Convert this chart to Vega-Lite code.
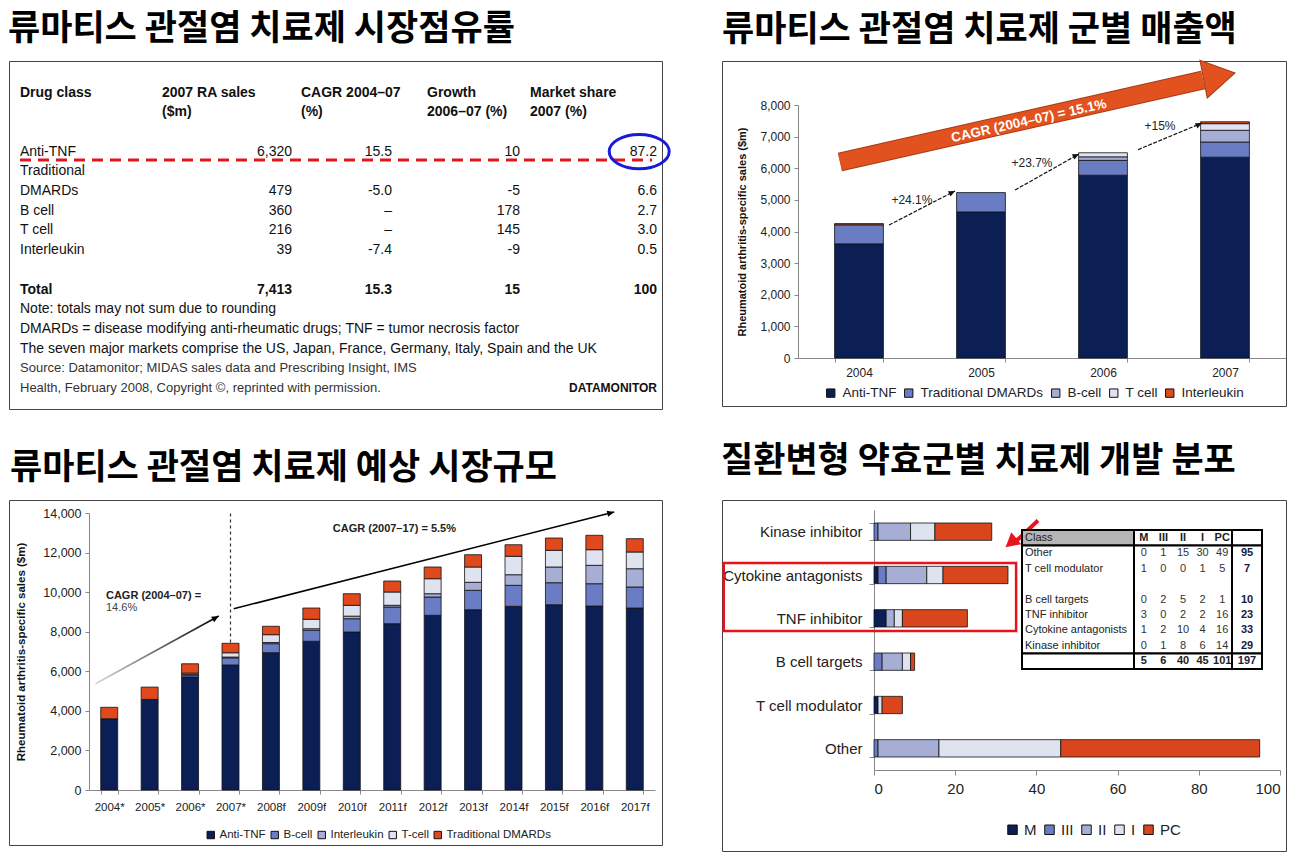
{
"$schema": "https://vega.github.io/schema/vega-lite/v6.json",
"background": "white",
"padding": {"left": 7, "top": 11, "right": 5, "bottom": 0},
"config": {
  "font": "Liberation Sans",
  "view": {"stroke": "#444", "strokeWidth": 1},
  "title": {"anchor": "start", "frame": "group", "font": "Noto Sans CJK KR", "fontSize": 35, "fontWeight": "bold", "color": "#000", "offset": 14},
  "axis": {"labelFont": "Liberation Sans", "titleFont": "Liberation Sans", "labelColor": "#222", "titleColor": "#111", "domainColor": "#888", "tickColor": "#888", "grid": false},
  "legend": {"labelFont": "Liberation Sans", "labelColor": "#222"},
  "text": {"font": "Liberation Sans"}
},
"datasets": {
  "dev": [
    {"cls": "Kinase inhibitor", "phase": "M", "n": 0}, {"cls": "Kinase inhibitor", "phase": "III", "n": 1}, {"cls": "Kinase inhibitor", "phase": "II", "n": 8}, {"cls": "Kinase inhibitor", "phase": "I", "n": 6}, {"cls": "Kinase inhibitor", "phase": "PC", "n": 14},
    {"cls": "Cytokine antagonists", "phase": "M", "n": 1}, {"cls": "Cytokine antagonists", "phase": "III", "n": 2}, {"cls": "Cytokine antagonists", "phase": "II", "n": 10}, {"cls": "Cytokine antagonists", "phase": "I", "n": 4}, {"cls": "Cytokine antagonists", "phase": "PC", "n": 16},
    {"cls": "TNF inhibitor", "phase": "M", "n": 3}, {"cls": "TNF inhibitor", "phase": "III", "n": 0}, {"cls": "TNF inhibitor", "phase": "II", "n": 2}, {"cls": "TNF inhibitor", "phase": "I", "n": 2}, {"cls": "TNF inhibitor", "phase": "PC", "n": 16},
    {"cls": "B cell targets", "phase": "M", "n": 0}, {"cls": "B cell targets", "phase": "III", "n": 2}, {"cls": "B cell targets", "phase": "II", "n": 5}, {"cls": "B cell targets", "phase": "I", "n": 2}, {"cls": "B cell targets", "phase": "PC", "n": 1},
    {"cls": "T cell modulator", "phase": "M", "n": 1}, {"cls": "T cell modulator", "phase": "III", "n": 0}, {"cls": "T cell modulator", "phase": "II", "n": 0}, {"cls": "T cell modulator", "phase": "I", "n": 1}, {"cls": "T cell modulator", "phase": "PC", "n": 5},
    {"cls": "Other", "phase": "M", "n": 0}, {"cls": "Other", "phase": "III", "n": 1}, {"cls": "Other", "phase": "II", "n": 15}, {"cls": "Other", "phase": "I", "n": 30}, {"cls": "Other", "phase": "PC", "n": 49}
  ],
  "phaseOrder": [{"phase": "M", "rank": 1}, {"phase": "III", "rank": 2}, {"phase": "II", "rank": 3}, {"phase": "I", "rank": 4}, {"phase": "PC", "rank": 5}],
  "trOrder": [{"cls": "Anti-TNF", "rank": 1}, {"cls": "Traditional DMARDs", "rank": 2}, {"cls": "B-cell", "rank": 3}, {"cls": "T cell", "rank": 4}, {"cls": "Interleukin", "rank": 5}]
},
"spacing": 33,
"resolve": {"scale": {"color": "independent"}, "legend": {"color": "independent"}},
"vconcat": [
 {"hconcat": [
  {
   "width": 653, "height": 348,
   "title": {"text": "류마티스 관절염 치료제 시장점유률", "dx": -1},
   "resolve": {"scale": {"x": "independent", "y": "independent"}},
   "layer": [
    {"data": {"values": [
      {"line": 0, "col": 0, "text": "Drug class"}, {"line": 0, "col": 1, "text": "2007 RA sales"}, {"line": 0, "col": 2, "text": "CAGR 2004–07"}, {"line": 0, "col": 3, "text": "Growth"}, {"line": 0, "col": 4, "text": "Market share"},
      {"line": 1, "col": 1, "text": "($m)"}, {"line": 1, "col": 2, "text": "(%)"}, {"line": 1, "col": 3, "text": "2006–07 (%)"}, {"line": 1, "col": 4, "text": "2007 (%)"},
      {"line": 10, "col": 0, "text": "Total"}]},
     "mark": {"type": "text", "align": "left", "baseline": "middle", "fontSize": 14, "fontWeight": "bold", "color": "#111"},
     "encoding": {
      "x": {"field": "col", "type": "quantitative", "scale": {"domain": [0, 1, 2, 3, 4, 5], "range": [11, 153, 292, 418, 521, 643], "zero": false, "nice": false}, "axis": null},
      "y": {"field": "line", "type": "quantitative", "scale": {"domain": [0, 15], "range": [31.5, 327], "zero": false, "nice": false}, "axis": null},
      "text": {"field": "text"}}},
    {"data": {"values": [
      {"line": 3, "col": 0, "text": "Anti-TNF"}, {"line": 4, "col": 0, "text": "Traditional"}, {"line": 5, "col": 0, "text": "DMARDs"}, {"line": 6, "col": 0, "text": "B cell"}, {"line": 7, "col": 0, "text": "T cell"}, {"line": 8, "col": 0, "text": "Interleukin"},
      {"line": 11, "col": 0, "text": "Note: totals may not sum due to rounding"},
      {"line": 12, "col": 0, "text": "DMARDs = disease modifying anti-rheumatic drugs; TNF = tumor necrosis factor"},
      {"line": 13, "col": 0, "text": "The seven major markets comprise the US, Japan, France, Germany, Italy, Spain and the UK"}]},
     "mark": {"type": "text", "align": "left", "baseline": "middle", "fontSize": 14, "color": "#111"},
     "encoding": {
      "x": {"field": "col", "type": "quantitative", "scale": {"domain": [0, 1, 2, 3, 4, 5], "range": [11, 153, 292, 418, 521, 643], "zero": false, "nice": false}, "axis": null},
      "y": {"field": "line", "type": "quantitative", "scale": {"domain": [0, 15], "range": [31.5, 327], "zero": false, "nice": false}, "axis": null},
      "text": {"field": "text"}}},
    {"data": {"values": [
      {"line": 14, "col": 0, "text": "Source: Datamonitor; MIDAS sales data and Prescribing Insight, IMS"},
      {"line": 15, "col": 0, "text": "Health, February 2008, Copyright ©, reprinted with permission."}]},
     "mark": {"type": "text", "align": "left", "baseline": "middle", "fontSize": 13, "color": "#333"},
     "encoding": {
      "x": {"field": "col", "type": "quantitative", "scale": {"domain": [0, 1, 2, 3, 4, 5], "range": [11, 153, 292, 418, 521, 643], "zero": false, "nice": false}, "axis": null},
      "y": {"field": "line", "type": "quantitative", "scale": {"domain": [0, 15], "range": [31.5, 327], "zero": false, "nice": false}, "axis": null},
      "text": {"field": "text"}}},
    {"data": {"values": [
      {"line": 3, "col": 1, "text": "6,320"}, {"line": 3, "col": 2, "text": "15.5"}, {"line": 3, "col": 3, "text": "10"}, {"line": 3, "col": 4, "text": "87.2"},
      {"line": 5, "col": 1, "text": "479"}, {"line": 5, "col": 2, "text": "-5.0"}, {"line": 5, "col": 3, "text": "-5"}, {"line": 5, "col": 4, "text": "6.6"},
      {"line": 6, "col": 1, "text": "360"}, {"line": 6, "col": 2, "text": "–"}, {"line": 6, "col": 3, "text": "178"}, {"line": 6, "col": 4, "text": "2.7"},
      {"line": 7, "col": 1, "text": "216"}, {"line": 7, "col": 2, "text": "–"}, {"line": 7, "col": 3, "text": "145"}, {"line": 7, "col": 4, "text": "3.0"},
      {"line": 8, "col": 1, "text": "39"}, {"line": 8, "col": 2, "text": "-7.4"}, {"line": 8, "col": 3, "text": "-9"}, {"line": 8, "col": 4, "text": "0.5"}]},
     "mark": {"type": "text", "align": "right", "baseline": "middle", "fontSize": 14, "color": "#111"},
     "encoding": {
      "x": {"field": "col", "type": "quantitative", "scale": {"domain": [1, 2, 3, 4], "range": [283, 383, 511, 648], "zero": false, "nice": false}, "axis": null},
      "y": {"field": "line", "type": "quantitative", "scale": {"domain": [0, 15], "range": [31.5, 327], "zero": false, "nice": false}, "axis": null},
      "text": {"field": "text"}}},
    {"data": {"values": [
      {"line": 10, "col": 1, "text": "7,413"}, {"line": 10, "col": 2, "text": "15.3"}, {"line": 10, "col": 3, "text": "15"}, {"line": 10, "col": 4, "text": "100"}]},
     "mark": {"type": "text", "align": "right", "baseline": "middle", "fontSize": 14, "fontWeight": "bold", "color": "#111"},
     "encoding": {
      "x": {"field": "col", "type": "quantitative", "scale": {"domain": [1, 2, 3, 4], "range": [283, 383, 511, 648], "zero": false, "nice": false}, "axis": null},
      "y": {"field": "line", "type": "quantitative", "scale": {"domain": [0, 15], "range": [31.5, 327], "zero": false, "nice": false}, "axis": null},
      "text": {"field": "text"}}},
    {"data": {"values": [{"line": 15, "col": 4, "text": "DATAMONITOR"}]},
     "mark": {"type": "text", "align": "right", "baseline": "middle", "fontSize": 12, "fontWeight": "bold", "color": "#111"},
     "encoding": {
      "x": {"field": "col", "type": "quantitative", "scale": {"domain": [1, 2, 3, 4], "range": [283, 383, 511, 648], "zero": false, "nice": false}, "axis": null},
      "y": {"field": "line", "type": "quantitative", "scale": {"domain": [0, 15], "range": [31.5, 327], "zero": false, "nice": false}, "axis": null},
      "text": {"field": "text"}}},
    {"data": {"values": [{"x0": 0, "x1": 5, "line": 3.43}]},
     "mark": {"type": "rule", "color": "#e8141c", "strokeWidth": 3, "strokeDash": [11, 7]},
     "encoding": {
      "x": {"field": "x0", "type": "quantitative", "scale": {"domain": [0, 1, 2, 3, 4, 5], "range": [11, 153, 292, 418, 521, 643], "zero": false, "nice": false}, "axis": null},
      "x2": {"field": "x1"},
      "y": {"field": "line", "type": "quantitative", "scale": {"domain": [0, 15], "range": [31.5, 327], "zero": false, "nice": false}, "axis": null}}},
    {"data": {"values": [{"col": 3.87, "line": 3}]},
     "mark": {"type": "point", "shape": "M -1 0 A 1 0.57 0 1 1 1 0 A 1 0.57 0 1 1 -1 0 Z", "size": 3600, "filled": false, "stroke": "#1a1adc", "strokeWidth": 3, "opacity": 1},
     "encoding": {
      "x": {"field": "col", "type": "quantitative", "scale": {"domain": [1, 2, 3, 4], "range": [283, 383, 511, 648], "zero": false, "nice": false}, "axis": null},
      "y": {"field": "line", "type": "quantitative", "scale": {"domain": [0, 15], "range": [31.5, 327], "zero": false, "nice": false}, "axis": null}}}
   ]
  },
  {
   "width": 564, "height": 345,
   "title": {"text": "류마티스 관절염 치료제 군별 매출액", "dx": 0, "dy": 20},
   "resolve": {"scale": {"x": "independent", "y": "independent"}},
   "layer": [
    {"data": {"values": [
      {"year": "2004", "cls": "Anti-TNF", "v": 3610}, {"year": "2004", "cls": "Traditional DMARDs", "v": 600}, {"year": "2004", "cls": "Interleukin", "v": 40},
      {"year": "2005", "cls": "Anti-TNF", "v": 4620}, {"year": "2005", "cls": "Traditional DMARDs", "v": 610},
      {"year": "2006", "cls": "Anti-TNF", "v": 5780}, {"year": "2006", "cls": "Traditional DMARDs", "v": 470}, {"year": "2006", "cls": "B-cell", "v": 110}, {"year": "2006", "cls": "T cell", "v": 130},
      {"year": "2007", "cls": "Anti-TNF", "v": 6350}, {"year": "2007", "cls": "Traditional DMARDs", "v": 480}, {"year": "2007", "cls": "B-cell", "v": 370}, {"year": "2007", "cls": "T cell", "v": 210}, {"year": "2007", "cls": "Interleukin", "v": 60}]},
     "transform": [{"lookup": "cls", "from": {"data": {"name": "trOrder"}, "key": "cls", "fields": ["rank"]}}],
     "mark": {"type": "bar", "stroke": "#111", "strokeWidth": 0.8},
     "encoding": {
      "x": {"field": "year", "type": "nominal", "scale": {"range": [76, 564], "paddingInner": 0.6, "paddingOuter": 0.3},
            "axis": {"offset": -48, "title": null, "labelAngle": 0, "labelFontSize": 12, "tickBand": "extent", "tickSize": 4, "labelPadding": 5}},
      "y": {"field": "v", "type": "quantitative", "stack": "zero", "scale": {"domain": [0, 8000], "range": [297, 44], "nice": false, "zero": false},
            "axis": {"offset": -76, "values": [0, 1000, 2000, 3000, 4000, 5000, 6000, 7000, 8000], "format": ",.0f", "title": "Rheumatoid arthritis-specific sales ($m)", "titleFontSize": 11, "titleFontWeight": "bold", "titlePadding": 12, "labelFontSize": 12, "tickSize": 4, "labelPadding": 4}},
      "order": {"field": "rank", "type": "quantitative", "sort": "ascending"},
      "color": {"field": "cls", "type": "nominal",
                "scale": {"domain": ["Anti-TNF", "Traditional DMARDs", "B-cell", "T cell", "Interleukin"], "range": ["#0c1f55", "#6a7cc4", "#a6aed6", "#dfe2ef", "#e0481d"]},
                "legend": {"orient": "none", "legendX": 102, "legendY": 325, "direction": "horizontal", "title": null, "labelFontSize": 13.5, "symbolType": "square", "symbolSize": 70, "symbolStrokeColor": "#111", "symbolStrokeWidth": 1, "columnPadding": 5, "labelOffset": 5}}}},
    {"layer": [
      {"data": {"values": [{"yr": 2003.844, "v": 6199}, {"yr": 2006.82, "v": 8790}]},
       "mark": {"type": "line", "color": "#a83a17", "strokeWidth": 19, "strokeCap": "butt"},
       "encoding": {
        "x": {"field": "yr", "type": "quantitative", "scale": {"domain": [2003.5, 2007.5], "range": [76, 564], "nice": false, "zero": false}, "axis": null},
        "y": {"field": "v", "type": "quantitative", "scale": {"domain": [0, 8000], "range": [297, 44], "nice": false, "zero": false}, "axis": null}}},
      {"data": {"values": [{"yr": 2003.844, "v": 6199}, {"yr": 2006.82, "v": 8790}]},
       "mark": {"type": "line", "color": "#e2521f", "strokeWidth": 17, "strokeCap": "butt"},
       "encoding": {
        "x": {"field": "yr", "type": "quantitative", "scale": {"domain": [2003.5, 2007.5], "range": [76, 564], "nice": false, "zero": false}, "axis": null},
        "y": {"field": "v", "type": "quantitative", "scale": {"domain": [0, 8000], "range": [297, 44], "nice": false, "zero": false}, "axis": null}}},
      {"data": {"values": [{"yr": 2007.082, "v": 9012}]},
       "mark": {"type": "point", "shape": "M 0 0 L -2 -1.2 L -2 1.2 Z", "size": 1024, "angle": -11, "filled": true, "fill": "#e2521f", "stroke": "#a83a17", "strokeWidth": 1, "opacity": 1},
       "encoding": {
        "x": {"field": "yr", "type": "quantitative", "scale": {"domain": [2003.5, 2007.5], "range": [76, 564], "nice": false, "zero": false}, "axis": null},
        "y": {"field": "v", "type": "quantitative", "scale": {"domain": [0, 8000], "range": [297, 44], "nice": false, "zero": false}, "axis": null}}},
      {"data": {"values": [{"yr": 2005.393, "v": 7494, "t": "CAGR (2004–07) = 15.1%"}]},
       "mark": {"type": "text", "angle": -12.6, "fontSize": 13.5, "fontWeight": "bold", "color": "white", "align": "center", "baseline": "middle"},
       "encoding": {
        "x": {"field": "yr", "type": "quantitative", "scale": {"domain": [2003.5, 2007.5], "range": [76, 564], "nice": false, "zero": false}, "axis": null},
        "y": {"field": "v", "type": "quantitative", "scale": {"domain": [0, 8000], "range": [297, 44], "nice": false, "zero": false}, "axis": null},
        "text": {"field": "t"}}},
      {"data": {"values": [
        {"id": 1, "yr": 2004.246, "v": 4205}, {"id": 1, "yr": 2004.787, "v": 5281},
        {"id": 2, "yr": 2005.279, "v": 5312}, {"id": 2, "yr": 2005.803, "v": 6450},
        {"id": 3, "yr": 2006.287, "v": 6587}, {"id": 3, "yr": 2006.811, "v": 7431}]},
       "mark": {"type": "line", "color": "#111", "strokeWidth": 1.2, "strokeDash": [4, 1.5]},
       "encoding": {
        "x": {"field": "yr", "type": "quantitative", "scale": {"domain": [2003.5, 2007.5], "range": [76, 564], "nice": false, "zero": false}, "axis": null},
        "y": {"field": "v", "type": "quantitative", "scale": {"domain": [0, 8000], "range": [297, 44], "nice": false, "zero": false}, "axis": null},
        "detail": {"field": "id"}}},
      {"data": {"values": [{"yr": 2004.787, "v": 5281}, {"yr": 2005.803, "v": 6450}, {"yr": 2006.811, "v": 7431}]},
       "mark": {"type": "point", "shape": "M 0 0 L -2 -0.9 L -2 0.9 Z", "size": 42, "angle": -27, "filled": true, "color": "#111", "opacity": 1},
       "encoding": {
        "x": {"field": "yr", "type": "quantitative", "scale": {"domain": [2003.5, 2007.5], "range": [76, 564], "nice": false, "zero": false}, "axis": null},
        "y": {"field": "v", "type": "quantitative", "scale": {"domain": [0, 8000], "range": [297, 44], "nice": false, "zero": false}, "axis": null}}},
      {"data": {"values": [{"yr": 2004.434, "v": 5005, "t": "+24.1%"}, {"yr": 2005.418, "v": 6166, "t": "+23.7%"}, {"yr": 2006.467, "v": 7336, "t": "+15%"}]},
       "mark": {"type": "text", "fontSize": 12, "color": "#222", "align": "center", "baseline": "middle"},
       "encoding": {
        "x": {"field": "yr", "type": "quantitative", "scale": {"domain": [2003.5, 2007.5], "range": [76, 564], "nice": false, "zero": false}, "axis": null},
        "y": {"field": "v", "type": "quantitative", "scale": {"domain": [0, 8000], "range": [297, 44], "nice": false, "zero": false}, "axis": null},
        "text": {"field": "t"}}}
    ]}
   ]
  }
 ], "spacing": 60, "bounds": "flush", "resolve": {"scale": {"color": "independent"}, "legend": {"color": "independent"}}},
 {"hconcat": [
  {
   "width": 653, "height": 345,
   "title": {"text": "류마티스 관절염 치료제 예상 시장규모", "dx": 1},
   "resolve": {"scale": {"x": "independent", "y": "independent"}},
   "layer": [
    {"data": {"values": [
      {"yl": "2004*", "cls": "Anti-TNF", "v": 3600}, {"yl": "2004*", "cls": "Traditional DMARDs", "v": 580},
      {"yl": "2005*", "cls": "Anti-TNF", "v": 4580}, {"yl": "2005*", "cls": "Traditional DMARDs", "v": 620},
      {"yl": "2006*", "cls": "Anti-TNF", "v": 5710}, {"yl": "2006*", "cls": "B-cell", "v": 100}, {"yl": "2006*", "cls": "Interleukin", "v": 40}, {"yl": "2006*", "cls": "T-cell", "v": 60}, {"yl": "2006*", "cls": "Traditional DMARDs", "v": 470},
      {"yl": "2007*", "cls": "Anti-TNF", "v": 6320}, {"yl": "2007*", "cls": "B-cell", "v": 360}, {"yl": "2007*", "cls": "Interleukin", "v": 40}, {"yl": "2007*", "cls": "T-cell", "v": 216}, {"yl": "2007*", "cls": "Traditional DMARDs", "v": 479},
      {"yl": "2008f", "cls": "Anti-TNF", "v": 6940}, {"yl": "2008f", "cls": "B-cell", "v": 455}, {"yl": "2008f", "cls": "Interleukin", "v": 60}, {"yl": "2008f", "cls": "T-cell", "v": 395}, {"yl": "2008f", "cls": "Traditional DMARDs", "v": 425},
      {"yl": "2009f", "cls": "Anti-TNF", "v": 7515}, {"yl": "2009f", "cls": "B-cell", "v": 556}, {"yl": "2009f", "cls": "Interleukin", "v": 80}, {"yl": "2009f", "cls": "T-cell", "v": 476}, {"yl": "2009f", "cls": "Traditional DMARDs", "v": 571},
      {"yl": "2010f", "cls": "Anti-TNF", "v": 7985}, {"yl": "2010f", "cls": "B-cell", "v": 672}, {"yl": "2010f", "cls": "Interleukin", "v": 130}, {"yl": "2010f", "cls": "T-cell", "v": 548}, {"yl": "2010f", "cls": "Traditional DMARDs", "v": 586},
      {"yl": "2011f", "cls": "Anti-TNF", "v": 8405}, {"yl": "2011f", "cls": "B-cell", "v": 844}, {"yl": "2011f", "cls": "Interleukin", "v": 86}, {"yl": "2011f", "cls": "T-cell", "v": 672}, {"yl": "2011f", "cls": "Traditional DMARDs", "v": 556},
      {"yl": "2012f", "cls": "Anti-TNF", "v": 8829}, {"yl": "2012f", "cls": "B-cell", "v": 925}, {"yl": "2012f", "cls": "Interleukin", "v": 167}, {"yl": "2012f", "cls": "T-cell", "v": 758}, {"yl": "2012f", "cls": "Traditional DMARDs", "v": 591},
      {"yl": "2013f", "cls": "Anti-TNF", "v": 9112}, {"yl": "2013f", "cls": "B-cell", "v": 981}, {"yl": "2013f", "cls": "Interleukin", "v": 404}, {"yl": "2013f", "cls": "T-cell", "v": 773}, {"yl": "2013f", "cls": "Traditional DMARDs", "v": 622},
      {"yl": "2014f", "cls": "Anti-TNF", "v": 9284}, {"yl": "2014f", "cls": "B-cell", "v": 1061}, {"yl": "2014f", "cls": "Interleukin", "v": 536}, {"yl": "2014f", "cls": "T-cell", "v": 930}, {"yl": "2014f", "cls": "Traditional DMARDs", "v": 586},
      {"yl": "2015f", "cls": "Anti-TNF", "v": 9365}, {"yl": "2015f", "cls": "B-cell", "v": 1112}, {"yl": "2015f", "cls": "Interleukin", "v": 793}, {"yl": "2015f", "cls": "T-cell", "v": 844}, {"yl": "2015f", "cls": "Traditional DMARDs", "v": 622},
      {"yl": "2016f", "cls": "Anti-TNF", "v": 9299}, {"yl": "2016f", "cls": "B-cell", "v": 1127}, {"yl": "2016f", "cls": "Interleukin", "v": 930}, {"yl": "2016f", "cls": "T-cell", "v": 789}, {"yl": "2016f", "cls": "Traditional DMARDs", "v": 728},
      {"yl": "2017f", "cls": "Anti-TNF", "v": 9198}, {"yl": "2017f", "cls": "B-cell", "v": 1062}, {"yl": "2017f", "cls": "Interleukin", "v": 924}, {"yl": "2017f", "cls": "T-cell", "v": 845}, {"yl": "2017f", "cls": "Traditional DMARDs", "v": 672}]},
     "mark": {"type": "bar", "stroke": "#111", "strokeWidth": 0.8},
     "encoding": {
      "x": {"field": "yl", "type": "nominal", "scale": {"domain": ["2004*", "2005*", "2006*", "2007*", "2008f", "2009f", "2010f", "2011f", "2012f", "2013f", "2014f", "2015f", "2016f", "2017f"], "range": [80, 646], "paddingInner": 0.58, "paddingOuter": 0.29},
            "axis": {"offset": -55, "title": null, "labelAngle": 0, "labelFontSize": 11.5, "tickBand": "extent", "tickSize": 4, "labelPadding": 7}},
      "y": {"field": "v", "type": "quantitative", "stack": "zero", "scale": {"domain": [0, 14000], "range": [290, 13], "nice": false, "zero": false},
            "axis": {"offset": -80, "values": [0, 2000, 4000, 6000, 8000, 10000, 12000, 14000], "format": ",.0f", "title": "Rheumatoid arthritis-specific sales ($m)", "titleFontSize": 11.5, "titleFontWeight": "bold", "titlePadding": 16, "labelFontSize": 12.5, "tickSize": 4, "labelPadding": 4}},
      "order": {"field": "cls", "type": "nominal", "sort": "ascending"},
      "color": {"field": "cls", "type": "nominal",
                "scale": {"domain": ["Anti-TNF", "B-cell", "Interleukin", "T-cell", "Traditional DMARDs"], "range": ["#0c1f55", "#6a7cc4", "#a6aed6", "#dfe2ef", "#e0481d"]},
                "legend": {"orient": "none", "legendX": 196, "legendY": 329, "direction": "horizontal", "title": null, "labelFontSize": 11.5, "symbolType": "square", "symbolSize": 55, "symbolStrokeColor": "#111", "symbolStrokeWidth": 1, "columnPadding": 3, "labelOffset": 3}}}},
    {"layer": [
      {"data": {"values": [{"yr": 2007, "v": 7450, "v2": 14050}]},
       "mark": {"type": "rule", "color": "#333", "strokeWidth": 1.2, "strokeDash": [3, 3]},
       "encoding": {
        "x": {"field": "yr", "type": "quantitative", "scale": {"domain": [2003.5, 2017.5], "range": [80, 646], "nice": false, "zero": false}, "axis": null},
        "y": {"field": "v", "type": "quantitative", "scale": {"domain": [0, 14000], "range": [290, 13], "nice": false, "zero": false}, "axis": null},
        "y2": {"field": "v2"}}},
      {"data": {"values": [{"yr": 2003.66, "v": 5372}, {"yr": 2006.71, "v": 8794}]},
       "mark": {"type": "line", "strokeWidth": 1.6, "stroke": {"gradient": "linear", "x1": 0, "y1": 0, "x2": 1, "y2": 0, "stops": [{"offset": 0, "color": "#d8d8d8"}, {"offset": 1, "color": "#000000"}]}},
       "encoding": {
        "x": {"field": "yr", "type": "quantitative", "scale": {"domain": [2003.5, 2017.5], "range": [80, 646], "nice": false, "zero": false}, "axis": null},
        "y": {"field": "v", "type": "quantitative", "scale": {"domain": [0, 14000], "range": [290, 13], "nice": false, "zero": false}, "axis": null}}},
      {"data": {"values": [{"yr": 2007.08, "v": 9163}, {"yr": 2016.49, "v": 14050}]},
       "mark": {"type": "line", "strokeWidth": 1.6, "color": "#000"},
       "encoding": {
        "x": {"field": "yr", "type": "quantitative", "scale": {"domain": [2003.5, 2017.5], "range": [80, 646], "nice": false, "zero": false}, "axis": null},
        "y": {"field": "v", "type": "quantitative", "scale": {"domain": [0, 14000], "range": [290, 13], "nice": false, "zero": false}, "axis": null}}},
      {"data": {"values": [{"yr": 2006.71, "v": 8794}]},
       "mark": {"type": "point", "shape": "M 0 0 L -2 -0.9 L -2 0.9 Z", "size": 49, "angle": -29, "filled": true, "color": "#000", "opacity": 1},
       "encoding": {
        "x": {"field": "yr", "type": "quantitative", "scale": {"domain": [2003.5, 2017.5], "range": [80, 646], "nice": false, "zero": false}, "axis": null},
        "y": {"field": "v", "type": "quantitative", "scale": {"domain": [0, 14000], "range": [290, 13], "nice": false, "zero": false}, "axis": null}}},
      {"data": {"values": [{"yr": 2016.49, "v": 14050}]},
       "mark": {"type": "point", "shape": "M 0 0 L -2 -0.9 L -2 0.9 Z", "size": 49, "angle": -14, "filled": true, "color": "#000", "opacity": 1},
       "encoding": {
        "x": {"field": "yr", "type": "quantitative", "scale": {"domain": [2003.5, 2017.5], "range": [80, 646], "nice": false, "zero": false}, "axis": null},
        "y": {"field": "v", "type": "quantitative", "scale": {"domain": [0, 14000], "range": [290, 13], "nice": false, "zero": false}, "axis": null}}},
      {"data": {"values": [{"yr": 2003.92, "v": 9805, "t": "CAGR (2004–07) ="}, {"yr": 2009.53, "v": 13206, "t": "CAGR (2007–17) = 5.5%"}]},
       "mark": {"type": "text", "align": "left", "baseline": "middle", "fontSize": 11, "fontWeight": "bold", "color": "#222"},
       "encoding": {
        "x": {"field": "yr", "type": "quantitative", "scale": {"domain": [2003.5, 2017.5], "range": [80, 646], "nice": false, "zero": false}, "axis": null},
        "y": {"field": "v", "type": "quantitative", "scale": {"domain": [0, 14000], "range": [290, 13], "nice": false, "zero": false}, "axis": null},
        "text": {"field": "t"}}},
      {"data": {"values": [{"yr": 2003.92, "v": 9213, "t": "14.6%"}]},
       "mark": {"type": "text", "align": "left", "baseline": "middle", "fontSize": 11, "color": "#444"},
       "encoding": {
        "x": {"field": "yr", "type": "quantitative", "scale": {"domain": [2003.5, 2017.5], "range": [80, 646], "nice": false, "zero": false}, "axis": null},
        "y": {"field": "v", "type": "quantitative", "scale": {"domain": [0, 14000], "range": [290, 13], "nice": false, "zero": false}, "axis": null},
        "text": {"field": "t"}}}
    ]}
   ]
  },
  {
   "width": 564, "height": 351,
   "title": {"text": "질환변형 약효군별 치료제 개발 분포", "dx": -1},
   "resolve": {"scale": {"x": "independent", "y": "independent"}},
   "layer": [
    {"data": {"name": "dev"},
     "transform": [{"filter": "datum.n > 0"}, {"lookup": "phase", "from": {"data": {"name": "phaseOrder"}, "key": "phase", "fields": ["rank"]}}],
     "mark": {"type": "bar", "stroke": "#111", "strokeWidth": 0.8},
     "encoding": {
      "x": {"field": "n", "type": "quantitative", "stack": "zero", "scale": {"domain": [0, 100], "range": [152, 558], "nice": false, "zero": false},
            "axis": {"offset": -81, "values": [0, 20, 40, 60, 80, 100], "title": null, "labelFontSize": 15, "tickSize": 5, "labelPadding": 6}},
      "y": {"field": "cls", "type": "nominal", "scale": {"domain": ["Kinase inhibitor", "Cytokine antagonists", "TNF inhibitor", "B cell targets", "T cell modulator", "Other"], "range": [10, 270], "paddingInner": 0.6, "paddingOuter": 0.3},
            "axis": {"offset": -152, "title": null, "labelFontSize": 15, "tickBand": "extent", "tickSize": 5, "labelPadding": 7}},
      "order": {"field": "rank", "type": "quantitative", "sort": "ascending"},
      "color": {"field": "phase", "type": "nominal",
                "scale": {"domain": ["M", "III", "II", "I", "PC"], "range": ["#0c1f55", "#6a7cc4", "#a6aed6", "#dfe2ef", "#d9461e"]},
                "legend": {"orient": "none", "legendX": 283, "legendY": 322, "direction": "horizontal", "title": null, "labelFontSize": 15, "symbolType": "square", "symbolSize": 90, "symbolStrokeColor": "#111", "symbolStrokeWidth": 1, "columnPadding": 5, "labelOffset": 4}}}},
    {"layer": [
      {"data": {"values": [{"x0": -37, "x1": 35, "c0": "Cytokine antagonists", "c1": "TNF inhibitor"}]},
       "mark": {"type": "rect", "filled": false, "stroke": "#e8141c", "strokeWidth": 2.5},
       "encoding": {
        "x": {"field": "x0", "type": "quantitative", "scale": {"domain": [0, 100], "range": [152, 558], "nice": false, "zero": false}, "axis": null},
        "x2": {"field": "x1"},
        "y": {"field": "c0", "type": "nominal", "bandPosition": -0.19, "scale": {"domain": ["Kinase inhibitor", "Cytokine antagonists", "TNF inhibitor", "B cell targets", "T cell modulator", "Other"], "range": [10, 270], "paddingInner": 0.6, "paddingOuter": 0.3}, "axis": null},
        "y2": {"field": "c1", "bandPosition": 1.23}}},
      {"data": {"values": [{"x0": 40.4, "x1": 34.3, "c": "Kinase inhibitor"}]},
       "mark": {"type": "rule", "color": "#e8141c", "strokeWidth": 4},
       "encoding": {
        "x": {"field": "x0", "type": "quantitative", "scale": {"domain": [0, 100], "range": [152, 558], "nice": false, "zero": false}, "axis": null},
        "x2": {"field": "x1"},
        "y": {"field": "c", "type": "nominal", "bandPosition": -0.14, "scale": {"domain": ["Kinase inhibitor", "Cytokine antagonists", "TNF inhibitor", "B cell targets", "T cell modulator", "Other"], "range": [10, 270], "paddingInner": 0.6, "paddingOuter": 0.3}, "axis": null},
        "y2": {"field": "c", "bandPosition": 1.2}}},
      {"data": {"values": [{"x": 32.4, "c": "Kinase inhibitor"}]},
       "mark": {"type": "point", "shape": "M 0 0 L -2 -1.1 L -2 1.1 Z", "size": 196, "angle": 140, "filled": true, "color": "#e8141c", "opacity": 1},
       "encoding": {
        "x": {"field": "x", "type": "quantitative", "scale": {"domain": [0, 100], "range": [152, 558], "nice": false, "zero": false}, "axis": null},
        "y": {"field": "c", "type": "nominal", "bandPosition": 1.4, "scale": {"domain": ["Kinase inhibitor", "Cytokine antagonists", "TNF inhibitor", "B cell targets", "T cell modulator", "Other"], "range": [10, 270], "paddingInner": 0.6, "paddingOuter": 0.3}, "axis": null}}}
    ]},
    {"resolve": {"scale": {"x": "independent"}},
     "layer": [
      {"layer": [
        {"data": {"values": [{"c": "Class", "r0": "hdr", "r1": "hdr"}]},
         "mark": {"type": "rect", "fill": "#b5b5b5", "stroke": "#000", "strokeWidth": 2},
         "encoding": {
          "x": {"field": "c", "type": "nominal", "scale": {"domain": ["Class"], "range": [300, 412], "paddingInner": 0, "paddingOuter": 0}, "axis": null},
          "y": {"field": "r0", "type": "nominal", "bandPosition": 0, "scale": {"domain": ["hdr", "Other", "T cell modulator", "gap", "B cell targets", "TNF inhibitor", "Cytokine antagonists", "Kinase inhibitor", "tot"], "range": [30, 169], "paddingInner": 0, "paddingOuter": 0}, "axis": null},
          "y2": {"field": "r1", "bandPosition": 1}}},
        {"data": {"values": [{"c": "Class", "r0": "Other", "r1": "Kinase inhibitor"}, {"c": "Class", "r0": "tot", "r1": "tot"}]},
         "mark": {"type": "rect", "fill": "#fff", "stroke": "#000", "strokeWidth": 2},
         "encoding": {
          "x": {"field": "c", "type": "nominal", "scale": {"domain": ["Class"], "range": [300, 412], "paddingInner": 0, "paddingOuter": 0}, "axis": null},
          "y": {"field": "r0", "type": "nominal", "bandPosition": 0, "scale": {"domain": ["hdr", "Other", "T cell modulator", "gap", "B cell targets", "TNF inhibitor", "Cytokine antagonists", "Kinase inhibitor", "tot"], "range": [30, 169], "paddingInner": 0, "paddingOuter": 0}, "axis": null},
          "y2": {"field": "r1", "bandPosition": 1}}},
        {"data": {"values": [{"c": "Class", "r": "hdr", "t": "Class"}, {"c": "Class", "r": "Other", "t": "Other"}, {"c": "Class", "r": "T cell modulator", "t": "T cell modulator"}, {"c": "Class", "r": "B cell targets", "t": "B cell targets"}, {"c": "Class", "r": "TNF inhibitor", "t": "TNF inhibitor"}, {"c": "Class", "r": "Cytokine antagonists", "t": "Cytokine antagonists"}, {"c": "Class", "r": "Kinase inhibitor", "t": "Kinase inhibitor"}]},
         "mark": {"type": "text", "align": "left", "baseline": "middle", "dx": 3, "fontSize": 11, "color": "#222"},
         "encoding": {
          "x": {"field": "c", "type": "nominal", "bandPosition": 0, "scale": {"domain": ["Class"], "range": [300, 412], "paddingInner": 0, "paddingOuter": 0}, "axis": null},
          "y": {"field": "r", "type": "nominal", "bandPosition": 0.5, "scale": {"domain": ["hdr", "Other", "T cell modulator", "gap", "B cell targets", "TNF inhibitor", "Cytokine antagonists", "Kinase inhibitor", "tot"], "range": [30, 169], "paddingInner": 0, "paddingOuter": 0}, "axis": null},
          "text": {"field": "t"}}}
      ]},
      {"layer": [
        {"data": {"values": [{"c0": "M", "c1": "PC", "r0": "hdr", "r1": "hdr"}, {"c0": "M", "c1": "PC", "r0": "Other", "r1": "Kinase inhibitor"}, {"c0": "M", "c1": "PC", "r0": "tot", "r1": "tot"}]},
         "mark": {"type": "rect", "fill": "#fff", "stroke": "#000", "strokeWidth": 2},
         "encoding": {
          "x": {"field": "c0", "type": "nominal", "bandPosition": 0, "scale": {"domain": ["M", "III", "II", "I", "PC"], "range": [412, 510], "paddingInner": 0, "paddingOuter": 0}, "axis": null},
          "x2": {"field": "c1", "bandPosition": 1},
          "y": {"field": "r0", "type": "nominal", "bandPosition": 0, "scale": {"domain": ["hdr", "Other", "T cell modulator", "gap", "B cell targets", "TNF inhibitor", "Cytokine antagonists", "Kinase inhibitor", "tot"], "range": [30, 169], "paddingInner": 0, "paddingOuter": 0}, "axis": null},
          "y2": {"field": "r1", "bandPosition": 1}}},
        {"data": {"name": "dev"},
         "transform": [{"aggregate": [{"op": "count", "as": "k"}], "groupby": ["phase"]}],
         "mark": {"type": "text", "align": "center", "baseline": "middle", "fontSize": 11, "fontWeight": "bold", "color": "#222"},
         "encoding": {
          "x": {"field": "phase", "type": "nominal", "scale": {"domain": ["M", "III", "II", "I", "PC"], "range": [412, 510], "paddingInner": 0, "paddingOuter": 0}, "axis": null},
          "y": {"datum": "hdr", "type": "nominal", "bandPosition": 0.5, "scale": {"domain": ["hdr", "Other", "T cell modulator", "gap", "B cell targets", "TNF inhibitor", "Cytokine antagonists", "Kinase inhibitor", "tot"], "range": [30, 169], "paddingInner": 0, "paddingOuter": 0}, "axis": null},
          "text": {"field": "phase"}}},
        {"data": {"name": "dev"},
         "mark": {"type": "text", "align": "center", "baseline": "middle", "fontSize": 11, "color": "#333"},
         "encoding": {
          "x": {"field": "phase", "type": "nominal", "scale": {"domain": ["M", "III", "II", "I", "PC"], "range": [412, 510], "paddingInner": 0, "paddingOuter": 0}, "axis": null},
          "y": {"field": "cls", "type": "nominal", "bandPosition": 0.5, "scale": {"domain": ["hdr", "Other", "T cell modulator", "gap", "B cell targets", "TNF inhibitor", "Cytokine antagonists", "Kinase inhibitor", "tot"], "range": [30, 169], "paddingInner": 0, "paddingOuter": 0}, "axis": null},
          "text": {"field": "n", "type": "quantitative"}}},
        {"data": {"name": "dev"},
         "transform": [{"aggregate": [{"op": "sum", "field": "n", "as": "s"}], "groupby": ["phase"]}],
         "mark": {"type": "text", "align": "center", "baseline": "middle", "fontSize": 11, "fontWeight": "bold", "color": "#222"},
         "encoding": {
          "x": {"field": "phase", "type": "nominal", "scale": {"domain": ["M", "III", "II", "I", "PC"], "range": [412, 510], "paddingInner": 0, "paddingOuter": 0}, "axis": null},
          "y": {"datum": "tot", "type": "nominal", "bandPosition": 0.5, "scale": {"domain": ["hdr", "Other", "T cell modulator", "gap", "B cell targets", "TNF inhibitor", "Cytokine antagonists", "Kinase inhibitor", "tot"], "range": [30, 169], "paddingInner": 0, "paddingOuter": 0}, "axis": null},
          "text": {"field": "s", "type": "quantitative"}}}
      ]},
      {"layer": [
        {"data": {"values": [{"c": "Total", "r0": "hdr", "r1": "hdr"}, {"c": "Total", "r0": "Other", "r1": "Kinase inhibitor"}, {"c": "Total", "r0": "tot", "r1": "tot"}]},
         "mark": {"type": "rect", "fill": "#fff", "stroke": "#000", "strokeWidth": 2},
         "encoding": {
          "x": {"field": "c", "type": "nominal", "scale": {"domain": ["Total"], "range": [510, 540], "paddingInner": 0, "paddingOuter": 0}, "axis": null},
          "y": {"field": "r0", "type": "nominal", "bandPosition": 0, "scale": {"domain": ["hdr", "Other", "T cell modulator", "gap", "B cell targets", "TNF inhibitor", "Cytokine antagonists", "Kinase inhibitor", "tot"], "range": [30, 169], "paddingInner": 0, "paddingOuter": 0}, "axis": null},
          "y2": {"field": "r1", "bandPosition": 1}}},
        {"data": {"name": "dev"},
         "transform": [{"aggregate": [{"op": "sum", "field": "n", "as": "s"}], "groupby": ["cls"]}],
         "mark": {"type": "text", "align": "center", "baseline": "middle", "fontSize": 11, "fontWeight": "bold", "color": "#1a1a40"},
         "encoding": {
          "x": {"datum": "Total", "type": "nominal", "bandPosition": 0.5, "scale": {"domain": ["Total"], "range": [510, 540], "paddingInner": 0, "paddingOuter": 0}, "axis": null},
          "y": {"field": "cls", "type": "nominal", "bandPosition": 0.5, "scale": {"domain": ["hdr", "Other", "T cell modulator", "gap", "B cell targets", "TNF inhibitor", "Cytokine antagonists", "Kinase inhibitor", "tot"], "range": [30, 169], "paddingInner": 0, "paddingOuter": 0}, "axis": null},
          "text": {"field": "s", "type": "quantitative"}}},
        {"data": {"name": "dev"},
         "transform": [{"aggregate": [{"op": "sum", "field": "n", "as": "s"}]}],
         "mark": {"type": "text", "align": "center", "baseline": "middle", "fontSize": 11, "fontWeight": "bold", "color": "#1a1a40"},
         "encoding": {
          "x": {"datum": "Total", "type": "nominal", "bandPosition": 0.5, "scale": {"domain": ["Total"], "range": [510, 540], "paddingInner": 0, "paddingOuter": 0}, "axis": null},
          "y": {"datum": "tot", "type": "nominal", "bandPosition": 0.5, "scale": {"domain": ["hdr", "Other", "T cell modulator", "gap", "B cell targets", "TNF inhibitor", "Cytokine antagonists", "Kinase inhibitor", "tot"], "range": [30, 169], "paddingInner": 0, "paddingOuter": 0}, "axis": null},
          "text": {"field": "s", "type": "quantitative"}}}
      ]}
    ]}
   ]
  }
 ], "spacing": 60, "bounds": "flush", "resolve": {"scale": {"color": "independent"}, "legend": {"color": "independent"}}}
]
}
